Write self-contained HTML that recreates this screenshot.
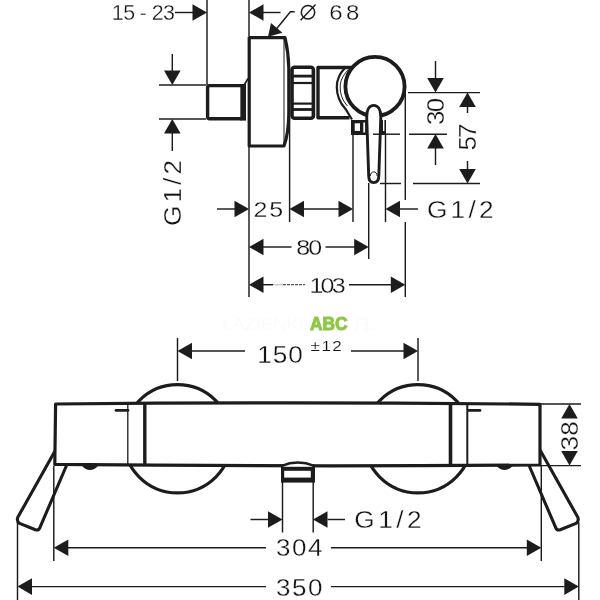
<!DOCTYPE html>
<html><head><meta charset="utf-8"><title>Dimension drawing</title>
<style>
html,body{margin:0;padding:0;background:#fff;}
body{width:600px;height:600px;overflow:hidden;}
svg{display:block;will-change:transform;}
svg text{font-family:"Liberation Sans",sans-serif;}
</style></head>
<body>
<svg width="600" height="600" viewBox="0 0 600 600">
<rect width="600" height="600" fill="#fff"/>
<line x1="207" y1="0" x2="207" y2="85" stroke="#1c1c1c" stroke-width="1.45" stroke-linecap="butt"/>
<line x1="249" y1="0" x2="249" y2="36" stroke="#1c1c1c" stroke-width="1.45" stroke-linecap="butt"/>
<line x1="249" y1="146" x2="249" y2="297" stroke="#1c1c1c" stroke-width="1.45" stroke-linecap="butt"/>
<line x1="289.6" y1="118" x2="289.6" y2="222" stroke="#1c1c1c" stroke-width="1.45" stroke-linecap="butt"/>
<line x1="353" y1="134" x2="353" y2="222" stroke="#1c1c1c" stroke-width="1.45" stroke-linecap="butt"/>
<line x1="368.7" y1="183" x2="368.7" y2="259" stroke="#1c1c1c" stroke-width="1.45" stroke-linecap="butt"/>
<line x1="385.5" y1="134" x2="385.5" y2="222" stroke="#1c1c1c" stroke-width="1.45" stroke-linecap="butt"/>
<line x1="405.3" y1="92.6" x2="405.3" y2="200" stroke="#1c1c1c" stroke-width="1.45" stroke-linecap="butt"/>
<line x1="405.3" y1="222" x2="405.3" y2="297" stroke="#1c1c1c" stroke-width="1.45" stroke-linecap="butt"/>
<line x1="159" y1="85" x2="206" y2="85" stroke="#1c1c1c" stroke-width="1.45" stroke-linecap="butt"/>
<line x1="159" y1="119" x2="206" y2="119" stroke="#1c1c1c" stroke-width="1.45" stroke-linecap="butt"/>
<line x1="408" y1="92.6" x2="480" y2="92.6" stroke="#1c1c1c" stroke-width="1.45" stroke-linecap="butt"/>
<line x1="409" y1="134.2" x2="447" y2="134.2" stroke="#1c1c1c" stroke-width="1.45" stroke-linecap="butt"/>
<line x1="380" y1="183.5" x2="401" y2="183.5" stroke="#1c1c1c" stroke-width="1.45" stroke-linecap="butt"/>
<line x1="413" y1="183.5" x2="480" y2="183.5" stroke="#1c1c1c" stroke-width="1.45" stroke-linecap="butt"/>
<line x1="175" y1="12.5" x2="193" y2="12.5" stroke="#1c1c1c" stroke-width="1.45" stroke-linecap="butt"/>
<polygon points="207,12.5 192.5,4.199999999999999 192.5,20.8" fill="#1c1c1c"/>
<polygon points="249,12.5 263.5,4.199999999999999 263.5,20.8" fill="#1c1c1c"/>
<line x1="263" y1="12.5" x2="280.5" y2="12.5" stroke="#1c1c1c" stroke-width="1.45" stroke-linecap="butt"/>
<polyline points="294.7,11.7 290.4,11.7 276,29.5" fill="none" stroke="#1c1c1c" stroke-width="1.45"/>
<polygon points="268,36.7 271,23 282.4,32.7" fill="#1c1c1c"/>
<line x1="172.3" y1="54" x2="172.3" y2="71" stroke="#1c1c1c" stroke-width="1.45" stroke-linecap="butt"/>
<polygon points="172.3,85 164.0,70.5 180.60000000000002,70.5" fill="#1c1c1c"/>
<polygon points="172.3,119 164.0,133.5 180.60000000000002,133.5" fill="#1c1c1c"/>
<line x1="172.3" y1="133" x2="172.3" y2="151" stroke="#1c1c1c" stroke-width="1.45" stroke-linecap="butt"/>
<line x1="217" y1="209" x2="235" y2="209" stroke="#1c1c1c" stroke-width="1.45" stroke-linecap="butt"/>
<polygon points="249,209 234.5,200.7 234.5,217.3" fill="#1c1c1c"/>
<polygon points="289.5,209 304.0,200.7 304.0,217.3" fill="#1c1c1c"/>
<line x1="303" y1="209" x2="339" y2="209" stroke="#1c1c1c" stroke-width="1.45" stroke-linecap="butt"/>
<polygon points="353,209 338.5,200.7 338.5,217.3" fill="#1c1c1c"/>
<polygon points="385.5,209 400.0,200.7 400.0,217.3" fill="#1c1c1c"/>
<line x1="400" y1="209" x2="418" y2="209" stroke="#1c1c1c" stroke-width="1.45" stroke-linecap="butt"/>
<polygon points="249,247 263.5,238.7 263.5,255.3" fill="#1c1c1c"/>
<line x1="263" y1="247" x2="291.5" y2="247" stroke="#1c1c1c" stroke-width="1.45" stroke-linecap="butt"/>
<line x1="325.5" y1="247" x2="355" y2="247" stroke="#1c1c1c" stroke-width="1.45" stroke-linecap="butt"/>
<polygon points="368.7,247 354.2,238.7 354.2,255.3" fill="#1c1c1c"/>
<polygon points="249,284.7 263.5,276.4 263.5,293.0" fill="#1c1c1c"/>
<line x1="263" y1="284.7" x2="273" y2="284.7" stroke="#1c1c1c" stroke-width="1.45" stroke-linecap="butt"/>
<line x1="273" y1="284.7" x2="283" y2="284.7" stroke="#c8c8c8" stroke-width="1.45" stroke-linecap="butt"/>
<line x1="283" y1="284.7" x2="305" y2="284.7" stroke="#555" stroke-width="1.2" stroke-dasharray="3 1"/>
<line x1="349" y1="284.7" x2="391" y2="284.7" stroke="#1c1c1c" stroke-width="1.45" stroke-linecap="butt"/>
<polygon points="405.3,284.7 390.8,276.4 390.8,293.0" fill="#1c1c1c"/>
<line x1="435.5" y1="61" x2="435.5" y2="79" stroke="#1c1c1c" stroke-width="1.45" stroke-linecap="butt"/>
<polygon points="435.5,92.6 427.2,78.1 443.8,78.1" fill="#1c1c1c"/>
<polygon points="435.5,134 427.2,148.5 443.8,148.5" fill="#1c1c1c"/>
<line x1="435.5" y1="148" x2="435.5" y2="165" stroke="#1c1c1c" stroke-width="1.45" stroke-linecap="butt"/>
<polygon points="467.5,92.6 459.2,107.1 475.8,107.1" fill="#1c1c1c"/>
<line x1="467.5" y1="106" x2="467.5" y2="113" stroke="#1c1c1c" stroke-width="1.45" stroke-linecap="butt"/>
<line x1="467.5" y1="161" x2="467.5" y2="170" stroke="#1c1c1c" stroke-width="1.45" stroke-linecap="butt"/>
<polygon points="467.5,183.5 459.2,169.0 475.8,169.0" fill="#1c1c1c"/>
<rect x="207.6" y="85.6" width="35" height="33.2" rx="2" fill="none" stroke="#1c1c1c" stroke-width="3.4"/>
<path d="M243.2,84 L243.2,120.6" stroke="#1c1c1c" stroke-width="5.6" fill="none"/>
<path d="M244.5,84.5 L248,78.5" stroke="#1c1c1c" stroke-width="1.6" fill="none"/>
<path d="M249.2,37.6 L285,37.6 C287,46 288.6,58 288.8,68 L288.8,114 C288.6,126 287,138 284,146 L249.2,146 Z" fill="#fff" stroke="#1c1c1c" stroke-width="3.2" stroke-linejoin="round"/>
<line x1="284" y1="39" x2="284" y2="145" stroke="#1c1c1c" stroke-width="1" stroke-linecap="butt"/>
<rect x="292" y="67.2" width="21.4" height="51" rx="2.5" fill="#fff" stroke="#1c1c1c" stroke-width="3.6"/>
<line x1="293" y1="76.1" x2="313" y2="76.1" stroke="#1c1c1c" stroke-width="2.8" stroke-linecap="butt"/>
<line x1="293" y1="83" x2="313" y2="83" stroke="#1c1c1c" stroke-width="2.2" stroke-linecap="butt"/>
<line x1="293" y1="103.6" x2="313" y2="103.6" stroke="#1c1c1c" stroke-width="2.2" stroke-linecap="butt"/>
<line x1="293" y1="109.5" x2="313" y2="109.5" stroke="#1c1c1c" stroke-width="2.8" stroke-linecap="butt"/>
<path d="M353,67.5 L318,67.5 L318,117.7 L349.5,117.7" fill="none" stroke="#1c1c1c" stroke-width="3.4" stroke-linejoin="round"/>
<path d="M345,68 C339,74 336.8,80 336.8,87 C336.8,96 340,103 345.5,109 L352,119.5" fill="none" stroke="#1c1c1c" stroke-width="2.2"/>
<path d="M348,70 C342.5,76 340.2,81 340.2,87 C340.2,95 343,101 347.5,106" fill="none" stroke="#1c1c1c" stroke-width="1"/>
<circle cx="375" cy="86.5" r="29.6" fill="#fff" stroke="#1c1c1c" stroke-width="3.8"/>
<rect x="351" y="120" width="35" height="15" fill="#1c1c1c"/>
<rect x="354.7" y="123.3" width="5.3" height="7.6" fill="#fff"/>
<rect x="363.3" y="122.5" width="1.8" height="10" fill="#fff"/>
<rect x="383" y="120" width="1.4" height="11" fill="#fff"/>
<path d="M366.7,117 C366.7,109.5 369.5,105.4 373.7,105.4 C377.9,105.4 380.8,109.5 380.8,117 L378.8,176 C378.7,180 376.8,182.6 373.7,182.6 C370.6,182.6 368.8,180 368.7,176 Z" fill="#fff" stroke="#1c1c1c" stroke-width="2.9" stroke-linejoin="round"/>
<path d="M370.3,176 C370.3,170.5 377.2,170.5 377.2,176" fill="none" stroke="#1c1c1c" stroke-width="1"/>
<line x1="177.5" y1="338" x2="177.5" y2="381" stroke="#1c1c1c" stroke-width="1.45" stroke-linecap="butt"/>
<line x1="418" y1="338" x2="418" y2="381" stroke="#1c1c1c" stroke-width="1.45" stroke-linecap="butt"/>
<polygon points="177.5,351 192.0,342.7 192.0,359.3" fill="#1c1c1c"/>
<line x1="192" y1="351" x2="245" y2="351" stroke="#1c1c1c" stroke-width="1.45" stroke-linecap="butt"/>
<line x1="351" y1="351" x2="404" y2="351" stroke="#1c1c1c" stroke-width="1.45" stroke-linecap="butt"/>
<polygon points="418,351 403.5,342.7 403.5,359.3" fill="#1c1c1c"/>
<line x1="17.5" y1="522.5" x2="17.5" y2="600" stroke="#1c1c1c" stroke-width="1.45" stroke-linecap="butt"/>
<line x1="578.8" y1="522.5" x2="578.8" y2="600" stroke="#1c1c1c" stroke-width="1.45" stroke-linecap="butt"/>
<line x1="282.5" y1="482" x2="282.5" y2="532.5" stroke="#1c1c1c" stroke-width="1.45" stroke-linecap="butt"/>
<line x1="313.2" y1="482" x2="313.2" y2="532.5" stroke="#1c1c1c" stroke-width="1.45" stroke-linecap="butt"/>
<line x1="250.5" y1="519.5" x2="268" y2="519.5" stroke="#1c1c1c" stroke-width="1.45" stroke-linecap="butt"/>
<polygon points="282.5,519.5 268.0,511.2 268.0,527.8" fill="#1c1c1c"/>
<polygon points="313,519.5 327.5,511.2 327.5,527.8" fill="#1c1c1c"/>
<line x1="327.5" y1="519.5" x2="345" y2="519.5" stroke="#1c1c1c" stroke-width="1.45" stroke-linecap="butt"/>
<polygon points="53.8,547.8 68.3,539.5 68.3,556.0999999999999" fill="#1c1c1c"/>
<line x1="68" y1="547.8" x2="266" y2="547.8" stroke="#1c1c1c" stroke-width="1.45" stroke-linecap="butt"/>
<line x1="331" y1="547.8" x2="527" y2="547.8" stroke="#1c1c1c" stroke-width="1.45" stroke-linecap="butt"/>
<polygon points="541.3,547.8 526.8,539.5 526.8,556.0999999999999" fill="#1c1c1c"/>
<polygon points="17.5,586.6 32.0,578.3000000000001 32.0,594.9" fill="#1c1c1c"/>
<line x1="32" y1="586.6" x2="266" y2="586.6" stroke="#1c1c1c" stroke-width="1.45" stroke-linecap="butt"/>
<line x1="331" y1="586.6" x2="564.5" y2="586.6" stroke="#1c1c1c" stroke-width="1.45" stroke-linecap="butt"/>
<polygon points="578.8,586.6 564.3,578.3000000000001 564.3,594.9" fill="#1c1c1c"/>
<line x1="541" y1="403.9" x2="581" y2="403.9" stroke="#1c1c1c" stroke-width="1.45" stroke-linecap="butt"/>
<line x1="541" y1="465.6" x2="581" y2="465.6" stroke="#1c1c1c" stroke-width="1.45" stroke-linecap="butt"/>
<polygon points="569.5,403.9 561.2,418.4 577.8,418.4" fill="#1c1c1c"/>
<polygon points="569.5,465.6 561.2,451.1 577.8,451.1" fill="#1c1c1c"/>
<circle cx="177.5" cy="438.8" r="54.1" fill="none" stroke="#1c1c1c" stroke-width="3.2"/>
<circle cx="418" cy="438.8" r="54.1" fill="none" stroke="#1c1c1c" stroke-width="3.2"/>
<path d="M55,451 L17.8,517.3 Q16.4,521.3 19.6,523.4 L35.4,529.8 Q38.8,530.8 40.1,527.2 L66.3,466 Z" fill="none" stroke="#1c1c1c" stroke-width="3.1" stroke-linejoin="round"/>
<path d="M540.6,451 L577.8,517.3 Q579.2,521.3 576.0,523.4 L560.2,529.8 Q556.8,530.8 555.5,527.2 L529.3,466 Z" fill="none" stroke="#1c1c1c" stroke-width="3.1" stroke-linejoin="round"/>
<path d="M55.6,404 Q297.8,401.6 540,404.3 L540,465 Q297.8,466.9 54.8,464.4 Z" fill="#fff" stroke="#1c1c1c" stroke-width="3.2" stroke-linejoin="round"/>
<line x1="127.8" y1="404" x2="127.8" y2="464" stroke="#1c1c1c" stroke-width="1.3" stroke-linecap="butt"/>
<line x1="144.8" y1="404" x2="144.8" y2="464" stroke="#1c1c1c" stroke-width="3.4" stroke-linecap="butt"/>
<line x1="467.3" y1="404" x2="467.3" y2="464" stroke="#1c1c1c" stroke-width="2" stroke-linecap="butt"/>
<line x1="450.5" y1="404" x2="450.5" y2="464" stroke="#1c1c1c" stroke-width="3.6" stroke-linecap="butt"/>
<line x1="116" y1="410.4" x2="128" y2="410.4" stroke="#1c1c1c" stroke-width="2.7" stroke-linecap="round"/>
<line x1="468.5" y1="410.4" x2="480" y2="410.4" stroke="#1c1c1c" stroke-width="2.7" stroke-linecap="round"/>
<path d="M81.5,465.5 Q90,474.5 98.5,465.5 Z" fill="#1c1c1c"/>
<path d="M496,465.5 Q504.6,474.5 513.3,465.5 Z" fill="#1c1c1c"/>
<rect x="283.5" y="463.2" width="28.8" height="4" fill="#fff"/>
<path d="M281.6,465.8 Q297.8,459.4 314.2,465.8" fill="#fff" stroke="#1c1c1c" stroke-width="2.5"/>
<rect x="281" y="466.8" width="34" height="15.8" fill="#1c1c1c"/>
<rect x="284.2" y="470.8" width="26.6" height="6.8" fill="#fff"/>
<line x1="53.8" y1="466" x2="53.8" y2="561" stroke="#1c1c1c" stroke-width="1.45" stroke-linecap="butt"/>
<line x1="541.3" y1="466" x2="541.3" y2="561" stroke="#1c1c1c" stroke-width="1.45" stroke-linecap="butt"/>
<line x1="373" y1="134.2" x2="400" y2="134.2" stroke="#1c1c1c" stroke-width="1.45" stroke-linecap="butt"/>
<text transform="translate(111.8 19.9) scale(1.0 1)" x="0" y="0" font-size="21.4" fill="#141414" font-weight="normal" stroke="#fff" stroke-width="0.28" textLength="63.20" lengthAdjust="spacing" >15 - 23</text>
<circle cx="308" cy="12.3" r="6.7" fill="none" stroke="#1c1c1c" stroke-width="1.5"/>
<line x1="300.6" y1="20.2" x2="315.6" y2="4.4" stroke="#1c1c1c" stroke-width="1.4" stroke-linecap="butt"/>
<text transform="translate(329.2 19.8) scale(1.13 1)" x="0" y="0" font-size="21.2" fill="#141414" font-weight="normal" stroke="#fff" stroke-width="0.28" textLength="26.55" lengthAdjust="spacing" >68</text>
<text transform="translate(253.6 217.4) scale(1.13 1)" x="0" y="0" font-size="22.2" fill="#141414" font-weight="normal" stroke="#fff" stroke-width="0.28" textLength="26.11" lengthAdjust="spacing" >25</text>
<text transform="translate(296.2 255.2) scale(1.13 1)" x="0" y="0" font-size="22.2" fill="#141414" font-weight="normal" stroke="#fff" stroke-width="0.28" textLength="23.01" lengthAdjust="spacing" >80</text>
<text transform="translate(309.4 292.5) scale(1.13 1)" x="0" y="0" font-size="22.2" fill="#141414" font-weight="normal" stroke="#fff" stroke-width="0.28" textLength="32.04" lengthAdjust="spacing" >103</text>
<text transform="translate(427 217.8) scale(1.13 1)" x="0" y="0" font-size="23.2" fill="#141414" font-weight="normal" stroke="#fff" stroke-width="0.28" textLength="58.85" lengthAdjust="spacing" >G1/2</text>
<text transform="translate(181.2 226) rotate(-90) scale(1.13 1)" x="0" y="0" font-size="23.2" fill="#141414" font-weight="normal" stroke="#fff" stroke-width="0.28" textLength="58.41" lengthAdjust="spacing" >G1/2</text>
<text transform="translate(444.2 125) rotate(-90) scale(1.13 1)" x="0" y="0" font-size="23" fill="#141414" font-weight="normal" stroke="#fff" stroke-width="0.28" textLength="24.07" lengthAdjust="spacing" >30</text>
<text transform="translate(475.8 150.6) rotate(-90) scale(1.13 1)" x="0" y="0" font-size="23" fill="#141414" font-weight="normal" stroke="#fff" stroke-width="0.28" textLength="23.89" lengthAdjust="spacing" >57</text>
<text transform="translate(257.3 362.6) scale(1.13 1)" x="0" y="0" font-size="23.2" fill="#141414" font-weight="normal" stroke="#fff" stroke-width="0.28" textLength="40.27" lengthAdjust="spacing" >150</text>
<text transform="translate(310.6 350.9) scale(1.13 1)" x="0" y="0" font-size="15.2" fill="#141414" font-weight="normal" stroke="#fff" stroke-width="0.15" textLength="27.70" lengthAdjust="spacing" >±12</text>
<text transform="translate(354.2 527.8) scale(1.13 1)" x="0" y="0" font-size="23.2" fill="#141414" font-weight="normal" stroke="#fff" stroke-width="0.28" textLength="59.73" lengthAdjust="spacing" >G1/2</text>
<text transform="translate(276 555.8) scale(1.13 1)" x="0" y="0" font-size="23" fill="#141414" font-weight="normal" stroke="#fff" stroke-width="0.28" textLength="41.15" lengthAdjust="spacing" >304</text>
<text transform="translate(276 595.6) scale(1.13 1)" x="0" y="0" font-size="23" fill="#141414" font-weight="normal" stroke="#fff" stroke-width="0.28" textLength="41.15" lengthAdjust="spacing" >350</text>
<text transform="translate(578.2 450.6) rotate(-90) scale(1.13 1)" x="0" y="0" font-size="23.2" fill="#141414" font-weight="normal" stroke="#fff" stroke-width="0.28" textLength="26.02" lengthAdjust="spacing" >38</text>
<text transform="translate(222 330) scale(1.13 1)" x="0" y="0" font-size="17" fill="#fbfbfb" font-weight="normal" stroke="#fff" stroke-width="0" textLength="72.57" lengthAdjust="spacing" >ŁAZIENKI</text>
<text transform="translate(310 330.2) scale(1 1)" x="0" y="0" font-size="19.2" fill="#8fc745" font-weight="bold" stroke="#8fc745" stroke-width="1.0" textLength="37.60" lengthAdjust="spacingAndGlyphs" >ABC</text>
<text transform="translate(353 330) scale(1.13 1)" x="0" y="0" font-size="17" fill="#fafafa" font-weight="normal" stroke="#fff" stroke-width="0" textLength="19.47" lengthAdjust="spacing" >.PL</text>
</svg>
</body></html>
